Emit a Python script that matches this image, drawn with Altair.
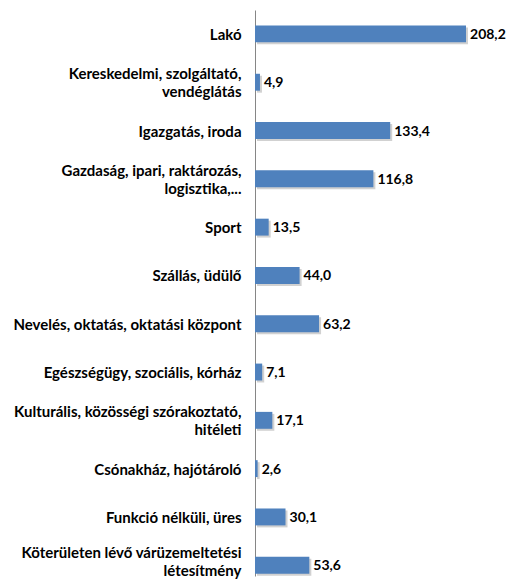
import altair as alt
import pandas as pd

categories = [
    "Lakó",
    "Kereskedelmi, szolgáltató,\nvendéglátás",
    "Igazgatás, iroda",
    "Gazdaság, ipari, raktározás,\nlogisztika,...",
    "Sport",
    "Szállás, üdülő",
    "Nevelés, oktatás, oktatási központ",
    "Egészségügy, szociális, kórház",
    "Kulturális, közösségi szórakoztató,\nhitéleti",
    "Csónakház, hajótároló",
    "Funkció nélküli, üres",
    "Köterületen lévő várüzemeltetési\nlétesítmény",
]
values = [208.2, 4.9, 133.4, 116.8, 13.5, 44.0, 63.2, 7.1, 17.1, 2.6, 30.1, 53.6]

df = pd.DataFrame({"cat": categories, "val": values})

FONT = "Lato"

y = alt.Y(
    "cat:N",
    sort=categories,
    scale=alt.Scale(paddingInner=0.65, paddingOuter=0.184, align=0.87),
    axis=alt.Axis(
        title=None,
        ticks=False,
        domain=True,
        domainColor="#868686",
        labelFont=FONT,
        labelFontWeight="bold",
        labelFontSize=15,
        labelColor="#000000",
        labelPadding=14,
        labelLimit=260,
        labelLineHeight=18,
        labelOffset={
            "condition": [
                {"test": "indexof(datum.value, 'létesítmény') >= 0", "value": -12},
                {"test": "indexof(datum.value, '\\n') >= 0", "value": -8},
            ],
            "value": 1,
        },
        labelExpr="split(datum.value, '\\n')",
    ),
)
x = alt.X("val:Q", scale=alt.Scale(domain=[0, 236.8]), axis=None)

base = alt.Chart(df)

shadow = base.mark_bar(color="#9a9a9a", opacity=0.45, xOffset=2, yOffset=2).encode(x=x, y=y)
bars = base.mark_bar(color="#4F81BD").encode(x=x, y=y)
labels = base.transform_calculate(
    lbl="replace(format(datum.val, '.1f'), '.', ',')"
).mark_text(
    align="left", baseline="middle", dx=4, dy=1, font=FONT, fontWeight="bold", fontSize=14, color="#000000"
).encode(x=x, y=y, text="lbl:N")

chart = (
    alt.layer(shadow, bars, labels)
    .properties(
        width=240,
        height=566,
        autosize=alt.AutoSizeParams(type="none"),
        padding={"left": 247, "top": 2, "right": 11, "bottom": 3},
    )
    .configure_view(stroke=None)
)

chart.save("out.html", embed_options={"renderer": "svg", "actions": False})
